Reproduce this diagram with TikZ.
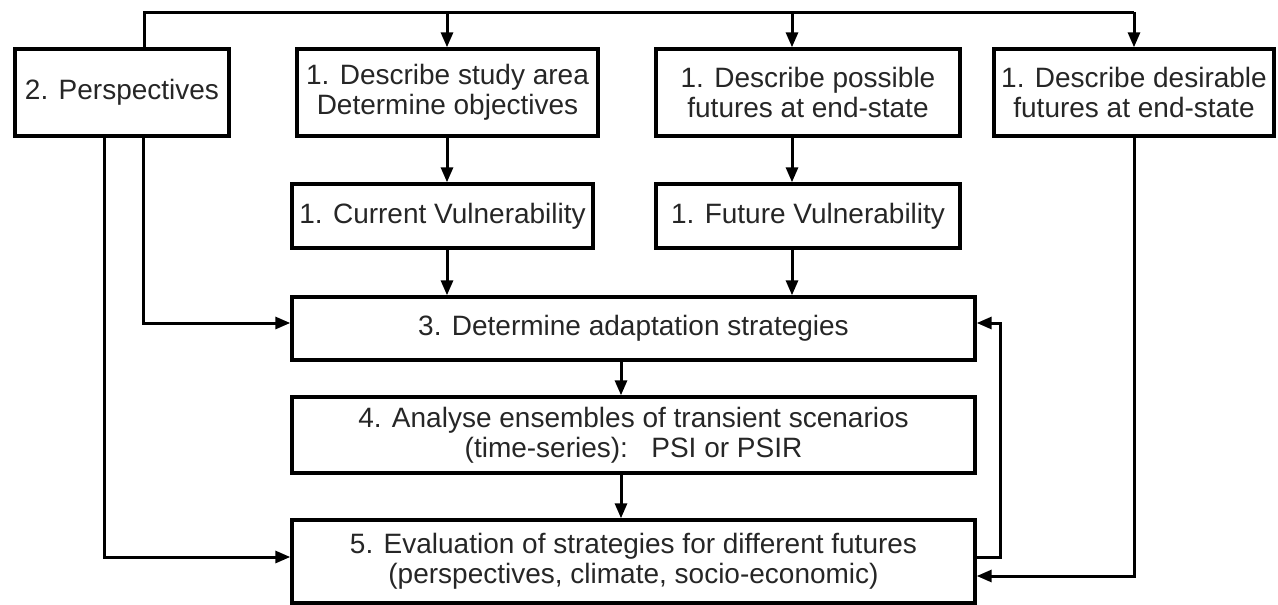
\documentclass[tikz,border=0pt]{standalone}
\usepackage{fontspec}
\setmainfont{Liberation Sans}
\usetikzlibrary{arrows.meta}
\definecolor{txt}{RGB}{38,38,38}
\begin{document}
\begin{tikzpicture}[x=1pt,y=-1pt,
  box/.style={draw=black, line width=3.4pt, inner sep=0pt, align=center,
    font=\fontsize{28}{30}\selectfont, text=txt},
  conn/.style={draw=black, line width=3pt},
  arr/.style={conn, -{Triangle[length=15pt,width=12pt]}}]
\useasboundingbox (0,0) rectangle (1278,605);
% column / row helpers
\coordinate (busL) at (144,12);
\coordinate (busR) at (1134,12);
\coordinate (cP) at (792,0);
\coordinate (cS) at (447,0);
\coordinate (cL1) at (104,0);
\coordinate (cL2) at (143,0);
\coordinate (cA) at (621,0);
\coordinate (cFB) at (1000,0);
% boxes
\node[box, minimum width=214pt, minimum height=87pt] (persp) at (122,92.5) {2. Perspectives};
\node[box, minimum width=301pt, minimum height=87pt] (study) at (447.5,92.5) {1. Describe study area\\Determine objectives};
\node[box, minimum width=304pt, minimum height=87pt] (poss) at (808,92.5) {1. Describe possible\\futures at end-state};
\node[box, minimum width=280pt, minimum height=87pt] (desir) at (1134,92.5) {1. Describe desirable\\futures at end-state};
\node[box, minimum width=301pt, minimum height=64pt] (curv) at (442.5,216) {1. Current Vulnerability};
\node[box, minimum width=304pt, minimum height=64pt] (futv) at (808,216) {1. Future Vulnerability};
\node[box, minimum width=683pt, minimum height=63pt] (adapt) at (633.5,328.5) {3. Determine adaptation strategies};
\node[box, minimum width=683pt, minimum height=76pt] (anal) at (633.5,435) {4. Analyse ensembles of transient scenarios\\(time-series):~~~PSI or PSIR};
\node[box, minimum width=683pt, minimum height=83pt] (eval) at (633.5,561.5) {5. Evaluation of strategies for different futures\\(perspectives, climate, socio-economic)};
% entry points
\coordinate (aW) at ([yshift=5.5pt]adapt.west);
\coordinate (aE) at ([yshift=5.5pt]adapt.east);
\coordinate (eW) at ([yshift=4.5pt]eval.west);
\coordinate (eE1) at ([yshift=4.5pt]eval.east);
\coordinate (eE2) at ([yshift=-14.5pt]eval.east);
% connectors
\draw[conn] (persp.north -| busL) -- (busL) -- (busR);
\draw[arr] (busR) -- (desir.north);
\draw[arr] (busL -| cS) -- (study.north -| cS);
\draw[arr] (busL -| cP) -- (poss.north -| cP);
\draw[arr] (study.south -| cS) -- (curv.north -| cS);
\draw[arr] (curv.south -| cS) -- (adapt.north -| cS);
\draw[arr] (poss.south -| cP) -- (futv.north -| cP);
\draw[arr] (futv.south -| cP) -- (adapt.north -| cP);
\draw[arr] (adapt.south -| cA) -- (anal.north -| cA);
\draw[arr] (anal.south -| cA) -- (eval.north -| cA);
\draw[arr] (persp.south -| cL2) |- (aW);
\draw[arr] (persp.south -| cL1) |- (eW);
\draw[arr] (eE1) -- (eE1 -| cFB) |- (aE);
\draw[arr] (desir.south) |- (eE2);
\end{tikzpicture}
\end{document}
